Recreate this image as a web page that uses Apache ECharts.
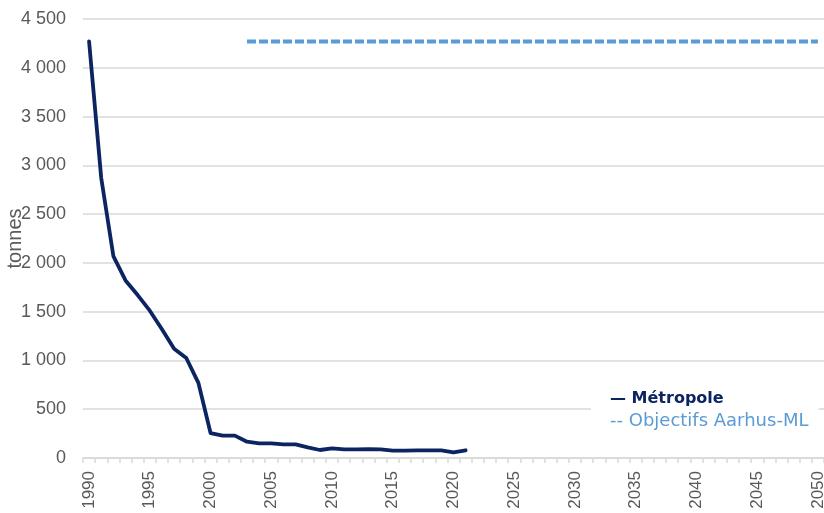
<!DOCTYPE html>
<html>
<head>
<meta charset="utf-8">
<script src="https://cdn.jsdelivr.net/npm/echarts@6/dist/echarts.min.js"></script>
<style>
html,body{margin:0;padding:0;background:#fff;}
#chart{width:824px;height:513px;}
</style>
</head>
<body>
<div id="chart"></div>
<script>
var years = ['1990','1991','1992','1993','1994','1995','1996','1997','1998','1999',
  '2000','2001','2002','2003','2004','2005','2006','2007','2008','2009',
  '2010','2011','2012','2013','2014','2015','2016','2017','2018','2019',
  '2020','2021','2022','2023','2024','2025','2026','2027','2028','2029',
  '2030','2031','2032','2033','2034','2035','2036','2037','2038','2039',
  '2040','2041','2042','2043','2044','2045','2046','2047','2048','2049','2050'];
var metropoleValues = [4270, 2870, 2070, 1820, 1670, 1510, 1320, 1120, 1025, 770,
  256, 229, 229, 167, 150, 150, 140, 140, 109, 82,
  99, 89, 89, 92, 89, 75, 75, 79, 79, 79,
  58, 79];
var objectifYears = ['2003', '2050'];
var objectifValues = [4270, 4270];
var yTicks = [0, 500, 1000, 1500, 2000, 2500, 3000, 3500, 4000, 4500];
var seriesNames = ['Métropole', 'Objectifs Aarhus-ML'];
var legendLabels = ['— Métropole', '-- Objectifs Aarhus-ML'];

function fmtThousands(v) {
  if (v >= 1000) {
    var r = String(v % 1000);
    while (r.length < 3) r = '0' + r;
    return Math.floor(v / 1000) + ' ' + r;
  }
  return String(v);
}

var chart = echarts.init(document.getElementById('chart'), null, {renderer: 'canvas'});
var labelFont = 'Liberation Sans';
chart.setOption({
  animation: false,
  backgroundColor: '#ffffff',
  grid: {left: 83, right: 0, top: 19, bottom: 55, containLabel: false, outerBoundsMode: 'none'},
  legend: {
    orient: 'vertical',
    left: 591,
    top: 375,
    padding: [12, 10, 12, 14],
    backgroundColor: '#ffffff',
    itemWidth: 0,
    itemHeight: 10,
    itemGap: 0,
    icon: 'none',
    selectedMode: false,
    formatter: function (name) {
      return legendLabels[seriesNames.indexOf(name)];
    },
    textStyle: {fontFamily: 'DejaVu Sans', fontSize: 17, lineHeight: 23},
    data: [
      {name: seriesNames[0], icon: 'none', textStyle: {color: '#0c2461', fontWeight: 'bold', fontSize: 16}},
      {name: seriesNames[1], icon: 'none', textStyle: {color: '#5b9bd5', fontSize: 18}}
    ]
  },
  xAxis: {
    type: 'category',
    data: years,
    boundaryGap: true,
    axisLine: {show: true, lineStyle: {color: '#d9d9d9', width: 1.5}},
    axisTick: {show: true, interval: 0, length: 5, alignWithLabel: false, lineStyle: {color: '#d9d9d9', width: 1.5}},
    axisLabel: {
      interval: 4,
      rotate: 90,
      margin: 13,
      color: '#595959',
      fontFamily: labelFont,
      fontSize: 17
    },
    splitLine: {show: false}
  },
  yAxis: {
    type: 'value',
    min: 0,
    max: 4500,
    interval: 500,
    name: 'tonnes',
    nameLocation: 'middle',
    nameGap: 58,
    nameMoveOverlap: false,
    nameTextStyle: {color: '#595959', fontFamily: labelFont, fontSize: 20},
    axisLine: {show: false},
    axisTick: {show: false},
    axisLabel: {
      margin: 17,
      color: '#595959',
      fontFamily: labelFont,
      fontSize: 18,
      formatter: function (v) { return yTicks.indexOf(v) >= 0 ? fmtThousands(v) : ''; }
    },
    splitLine: {show: true, lineStyle: {color: '#d9d9d9', width: 1.5}}
  },
  series: [
    {
      name: seriesNames[0],
      type: 'line',
      data: metropoleValues,
      symbol: 'none',
      smooth: false,
      lineStyle: {color: '#0c2461', width: 3.8, cap: 'round', join: 'round'},
      itemStyle: {color: '#0c2461'},
      z: 3
    },
    {
      name: seriesNames[1],
      type: 'line',
      data: objectifYears.map(function (y, i) { return [y, objectifValues[i]]; }),
      symbol: 'none',
      lineStyle: {color: '#5b9bd5', width: 4, type: [9, 3], cap: 'butt'},
      itemStyle: {color: '#5b9bd5'},
      z: 2
    }
  ]
});
</script>
</body>
</html>
